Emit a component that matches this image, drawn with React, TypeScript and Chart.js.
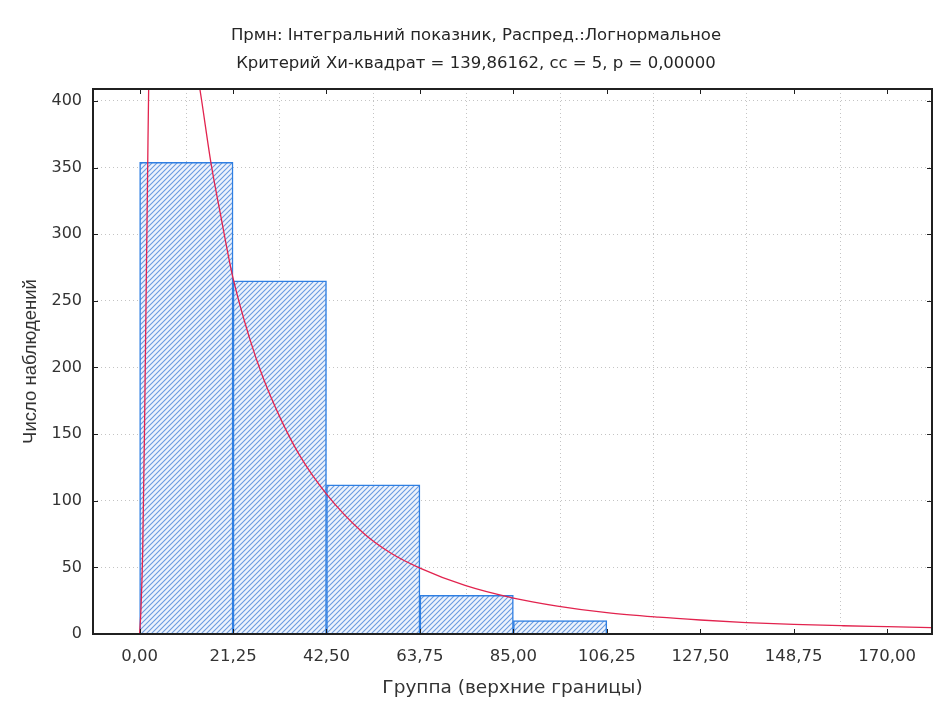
import React, { useEffect, useRef } from 'react';
import { Chart, registerables } from 'chart.js';

Chart.register(...registerables);

const titleLines = [
  'Прмн: Інтегральний показник, Распред.:Логнормальное',
  'Критерий Хи-квадрат = 139,86162, cc = 5, p = 0,00000',
];
const xAxisTitle = 'Группа (верхние границы)';
const yAxisTitle = 'Число наблюдений';

const binEdges = [0, 21.25, 42.5, 63.75, 85, 106.25];
const binCounts = [354, 265, 112, 29, 10];

const xTickValues = [0, 21.25, 42.5, 63.75, 85, 106.25, 127.5, 148.75, 170];
const yTickValues = [0, 50, 100, 150, 200, 250, 300, 350, 400];

const curveX = [0, 0.3, 0.7, 1.1, 1.5, 1.8, 2.1, 3, 5, 8, 11, 13.7, 16.3, 18.5, 21.25, 25, 28, 32, 36.4, 42.5, 50.8, 57, 63.75, 74, 85, 95, 106.25, 118, 127.5, 138, 148.75, 160, 170, 180];
const curveY = [0, 18, 62, 150, 260, 340, 420, 480, 520, 500, 460, 409, 352, 313, 267, 222, 193, 162, 134, 105, 76, 61, 49.5, 36.5, 27, 21, 16, 12.6, 10.5, 8.6, 7.2, 6.2, 5.5, 4.8];

const X_MIN = -10.6;
const X_MAX = 180.2;
const Y_MAX = 409;

const FONT_TEXT = '"DejaVu Sans", "Liberation Sans", Arial, sans-serif';

function makeHatch(): CanvasPattern | string {
  const t = document.createElement('canvas');
  t.width = 5;
  t.height = 5;
  const c = t.getContext('2d');
  if (!c) return '#cfe0f6';
  c.fillStyle = '#edf3fc';
  c.fillRect(0, 0, 5, 5);
  c.strokeStyle = '#6a9be0';
  c.lineWidth = 1.1;
  c.beginPath();
  c.moveTo(0, 5); c.lineTo(5, 0);
  c.moveTo(-1, 1); c.lineTo(1, -1);
  c.moveTo(4, 6); c.lineTo(6, 4);
  c.stroke();
  const p = c.createPattern(t, 'repeat');
  return p || '#cfe0f6';
}

const framePlugin = {
  id: 'frame',
  afterDraw(chart: any) {
    const { ctx, chartArea, scales } = chart;
    const { left, right, top, bottom } = chartArea;
    ctx.save();
    ctx.strokeStyle = '#1e1e1e';
    ctx.lineWidth = 1;
    ctx.beginPath();
    xTickValues.forEach((v) => {
      const x = Math.round(scales.x.getPixelForValue(v)) + 0.5;
      ctx.moveTo(x, bottom); ctx.lineTo(x, bottom - 5);
      ctx.moveTo(x, top); ctx.lineTo(x, top + 5);
    });
    yTickValues.forEach((v) => {
      const y = Math.round(scales.y.getPixelForValue(v)) + 0.5;
      ctx.moveTo(left, y); ctx.lineTo(left + 5, y);
      ctx.moveTo(right, y); ctx.lineTo(right - 5, y);
    });
    ctx.stroke();
    ctx.lineWidth = 2;
    ctx.strokeStyle = '#202020';
    ctx.strokeRect(left, top, right - left, bottom - top);
    ctx.restore();
  },
};

export default function App() {
  const ref = useRef<HTMLCanvasElement | null>(null);

  useEffect(() => {
    if (!ref.current) return;
    const barData = binCounts.map((y, i) => ({ x: (binEdges[i] + binEdges[i + 1]) / 2, y }));
    const lineData = curveX.map((x, i) => ({ x, y: curveY[i] }));
    const fmt = (v: number) => v.toFixed(2).replace('.', ',');

    const chart = new Chart(ref.current, {
      type: 'bar',
      data: {
        datasets: [
          {
            type: 'line',
            data: lineData,
            borderColor: '#e2234e',
            borderWidth: 1.3,
            pointRadius: 0,
            fill: false,
            cubicInterpolationMode: 'monotone',
            order: 0,
          } as any,
          {
            type: 'bar',
            data: barData,
            backgroundColor: makeHatch() as any,
            borderColor: '#2f7fe2',
            borderWidth: 1.5,
            barPercentage: 1,
            categoryPercentage: 1,
            order: 1,
          } as any,
        ],
      },
      options: {
        animation: false,
        responsive: false,
        layout: { padding: { left: 20, right: 3, top: 0, bottom: 0 } },
        plugins: {
          legend: { display: false },
          tooltip: { enabled: false },
          title: {
            display: true,
            text: titleLines,
            color: '#262626',
            font: { family: FONT_TEXT, size: 16.5, weight: 'normal', lineHeight: '28px' } as any,
            padding: { top: 22, bottom: 11 },
          },
        },
        scales: {
          x: {
            type: 'linear',
            min: X_MIN,
            max: X_MAX,
            offset: false,
            afterBuildTicks: (s: any) => { s.ticks = xTickValues.map((v) => ({ value: v })); },
            afterFit: (s: any) => { s.height = 68; },
            grid: { color: '#c4c4c4', lineWidth: 1, drawTicks: false },
            border: { display: false, dash: [1, 3] },
            ticks: {
              padding: 13,
              color: '#333',
              font: { family: FONT_TEXT, size: 16.5 },
              maxRotation: 0,
              autoSkip: false,
              callback: (v: any) => fmt(Number(v)),
            },
            title: {
              display: true,
              text: xAxisTitle,
              color: '#333',
              font: { family: FONT_TEXT, size: 18.5 },
              padding: { top: 0, bottom: 3 },
            },
          },
          y: {
            type: 'linear',
            min: 0,
            max: Y_MAX,
            afterBuildTicks: (s: any) => { s.ticks = yTickValues.map((v) => ({ value: v })); },
            afterFit: (s: any) => { s.width = 73; },
            grid: { color: '#c4c4c4', lineWidth: 1, drawTicks: false },
            border: { display: false, dash: [1, 3] },
            ticks: {
              padding: 11,
              color: '#333',
              font: { family: FONT_TEXT, size: 16 },
              callback: (v: any) => String(v),
            },
            title: {
              display: true,
              text: yAxisTitle,
              color: '#333',
              font: { family: '"Liberation Sans", Arial, sans-serif', size: 18.5 },
              padding: { top: 0, bottom: 0 },
            },
          },
        },
      },
      plugins: [framePlugin],
    });
    return () => chart.destroy();
  }, []);

  return (
    <div style={{ position: 'absolute', left: 0, top: 0, width: 935, height: 702, background: '#fff' }}>
      <canvas ref={ref} width={935} height={702} style={{ width: 935, height: 702, display: 'block' }} />
    </div>
  );
}
